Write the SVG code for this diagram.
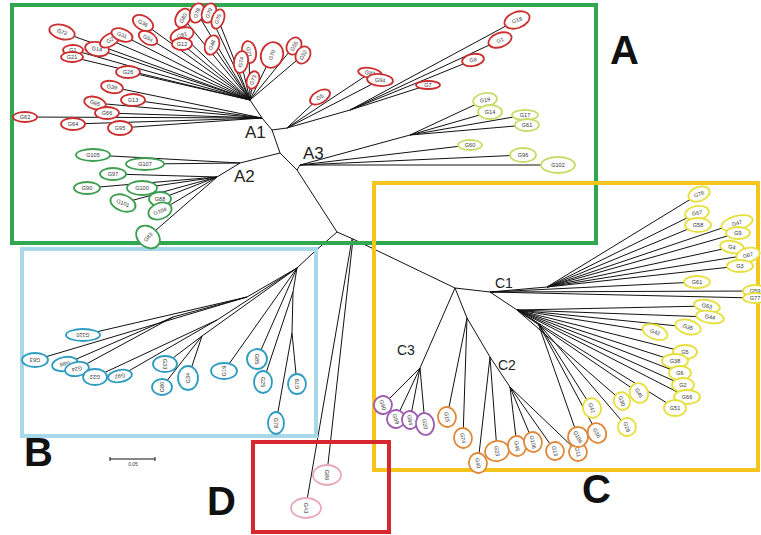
<svg xmlns="http://www.w3.org/2000/svg" width="761" height="535" viewBox="0 0 761 535">
<style>
.n ellipse{fill:#fff;stroke-width:1.8}
.n text{font-family:"Liberation Sans",Arial,sans-serif;font-size:5.5px;text-anchor:middle;fill:#333}
.r ellipse{stroke:#c9302f}
.g ellipse{stroke:#3d9e4f}
.lg ellipse{stroke:#c9dc6a}
.b ellipse{stroke:#2e9cc0}
.y ellipse{stroke:#e6df3c}
.o ellipse{stroke:#e0893a}
.p ellipse{stroke:#9d5bb0}
.k ellipse{stroke:#e7abbb}
.edges path{fill:none;stroke:#111;stroke-width:1}
.frame{fill:none;stroke-width:4}
.lbl{font-family:"Liberation Sans",Arial,sans-serif;font-size:17px;fill:#222}
.lblc{font-family:"Liberation Sans",Arial,sans-serif;font-size:14px;fill:#222}
.big{font-family:"Liberation Sans",Arial,sans-serif;font-size:40px;font-weight:bold;fill:#111}
</style>
<rect width="761" height="535" fill="#fff"/>
<g id="connectors" class="edges">
<path d="M337 232L297 170L280 153L272 130M337 232L313 253L297 268M337 232L353 239L455 288M352 239L306 506M353 239L327 473"/>
<path d="M272 130L262 118L250 100M250 100L62 32M250 100L73 50M250 100L72 57M250 100L97 49M250 100L110 40M250 100L122 35M250 100L143 23M250 100L148 38M250 100L128 72M250 100L183 18M250 100L197 13M250 100L209 13M250 100L218 19M250 100L182 35M250 100L182 44M250 100L212 45M250 100L249 52M250 100L241 62M250 100L272 55M250 100L294 46M250 100L303 55M250 100L253 80"/>
<path d="M262 118L112 87M262 118L133 100M262 118L95 103M262 118L107 113M262 118L25 117M262 118L73 124M262 118L120 128"/>
<path d="M272 130L287 128L320 97M287 128L370 73M287 128L380 80M287 128L350 110L428 85M350 110L473 60M350 110L500 40M350 110L517 20"/>
<path d="M297 170L300 165L410 135L485 100M410 135L490 112M410 135L525 115M410 135L527 125M300 165L470 145M300 165L523 155M300 165L558 165"/>
<path d="M280 153L240 163L93 155M240 163L145 164M240 163L217 177L113 174M217 177L87 188M217 177L142 188M217 177L123 203M217 177L160 199M217 177L160 211M217 177L148 237"/>
<path d="M297 268L247 297L83 335M247 297L35 360M247 297L173 317L65 364M173 317L77 369M297 268L217 320L95 377M217 320L120 376M297 268L202 336L165 364M202 336L162 387M202 336L188 378M297 268L224 371M297 268L257 359M297 268L293 292L263 382M293 292L292 333L297 384M292 333L276 423"/>
<path d="M455 288L490 292L547 287L699 194M547 287L697 213M547 287L698 225M547 287L737 223M547 287L738 233M547 287L732 247M547 287L748 255M547 287L740 266M490 292L697 282M490 292L755 291M490 292L755 298"/>
<path d="M490 292L517 310L707 306M517 310L710 317M517 310L688 327M517 310L655 332M517 310L685 352M517 310L675 361M517 310L680 373M517 310L683 385M517 310L687 397M517 310L675 408M517 310L639 393M517 310L622 401M517 310L538 323L592 408M538 323L627 427M538 323L597 433M538 323L578 437"/>
<path d="M455 288L467 318L447 417M467 318L463 438M467 318L490 357L478 463M490 357L497 451M490 357L510 387L517 446M510 387L533 442M510 387L555 451M510 387L578 452"/>
<path d="M455 288L420 368L383 405M420 368L396 419M420 368L410 420M420 368L425 424"/>
<path d="M110 459L155 459M110 457L110 461M155 457L155 461" stroke-width="0.6"/>
</g>
<rect class="frame" x="12" y="5" width="584" height="238" stroke="#2fa84f"/>
<rect class="frame" x="22" y="249" width="294" height="187" stroke="#a6d8ea"/>
<rect class="frame" x="374" y="183" width="384" height="287" stroke="#f4c51c"/>
<rect class="frame" x="253" y="442" width="136" height="90" stroke="#d7282f"/>
<g id="red">
<g id="r1" class="n r" transform="translate(62,32) rotate(15)"><ellipse rx="13" ry="7"/><text y="2">G72</text></g>
<g id="r2" class="n r" transform="translate(73,50)"><ellipse rx="10" ry="5"/><text y="2">G1</text></g>
<g id="r3" class="n r" transform="translate(72,57)"><ellipse rx="11" ry="5"/><text y="2">G21</text></g>
<g id="r4" class="n r" transform="translate(97,49) rotate(10)"><ellipse rx="12" ry="7"/><text y="2">G14</text></g>
<g id="r5" class="n r" transform="translate(110,40) rotate(-30)"><ellipse rx="11" ry="6"/><text y="2">G2</text></g>
<g id="r6" class="n r" transform="translate(122,35) rotate(20)"><ellipse rx="11" ry="6"/><text y="2">G31</text></g>
<g id="r7" class="n r" transform="translate(143,23) rotate(30)"><ellipse rx="11" ry="7"/><text y="2">G36</text></g>
<g id="r8" class="n r" transform="translate(148,38) rotate(30)"><ellipse rx="10" ry="6"/><text y="2">G54</text></g>
<g id="r9" class="n r" transform="translate(128,72)"><ellipse rx="12" ry="6"/><text y="2">G26</text></g>
<g id="r10" class="n r" transform="translate(112,87) rotate(10)"><ellipse rx="11" ry="6"/><text y="2">G39</text></g>
<g id="r11" class="n r" transform="translate(133,100)"><ellipse rx="12" ry="6"/><text y="2">G13</text></g>
<g id="r12" class="n r" transform="translate(95,103) rotate(15)"><ellipse rx="11" ry="6"/><text y="2">G65</text></g>
<g id="r13" class="n r" transform="translate(107,113)"><ellipse rx="12" ry="6"/><text y="2">G66</text></g>
<g id="r14" class="n r" transform="translate(25,117)"><ellipse rx="12" ry="5"/><text y="2">G62</text></g>
<g id="r15" class="n r" transform="translate(73,124)"><ellipse rx="12" ry="6"/><text y="2">G64</text></g>
<g id="r16" class="n r" transform="translate(120,128)"><ellipse rx="12" ry="7"/><text y="2">G95</text></g>
<g id="r17" class="n r" transform="translate(183,18) rotate(-60)"><ellipse rx="10" ry="7"/><text y="2">G80</text></g>
<g id="r18" class="n r" transform="translate(197,13) rotate(-70)"><ellipse rx="10" ry="7"/><text y="2">G78</text></g>
<g id="r19" class="n r" transform="translate(209,13) rotate(-70)"><ellipse rx="10" ry="7"/><text y="2">G79</text></g>
<g id="r20" class="n r" transform="translate(218,19) rotate(-70)"><ellipse rx="10" ry="6"/><text y="2">G75</text></g>
<g id="r21" class="n r" transform="translate(182,35) rotate(-20)"><ellipse rx="12" ry="7"/><text y="2">G81</text></g>
<g id="r22" class="n r" transform="translate(182,44)"><ellipse rx="10" ry="6"/><text y="2">G12</text></g>
<g id="r23" class="n r" transform="translate(212,45) rotate(-70)"><ellipse rx="10" ry="7"/><text y="2">G48</text></g>
<g id="r24" class="n r" transform="translate(249,52) rotate(80)"><ellipse rx="11" ry="7"/><text y="2">G71</text></g>
<g id="r25" class="n r" transform="translate(241,62) rotate(-80)"><ellipse rx="11" ry="7"/><text y="2">G74</text></g>
<g id="r26" class="n r" transform="translate(272,55) rotate(-70)"><ellipse rx="13" ry="11"/><text y="2">G70</text></g>
<g id="r27" class="n r" transform="translate(294,46) rotate(-60)"><ellipse rx="9" ry="7"/><text y="2">G55</text></g>
<g id="r28" class="n r" transform="translate(303,55) rotate(-60)"><ellipse rx="9" ry="7"/><text y="2">G52</text></g>
<g id="r29" class="n r" transform="translate(253,80) rotate(-70)"><ellipse rx="9" ry="6"/><text y="2">G73</text></g>
<g id="r30" class="n r" transform="translate(370,73) rotate(10)"><ellipse rx="12" ry="5"/><text y="2">G82</text></g>
<g id="r31" class="n r" transform="translate(380,80) rotate(5)"><ellipse rx="13" ry="6"/><text y="2">G94</text></g>
<g id="r32" class="n r" transform="translate(320,97) rotate(-30)"><ellipse rx="11" ry="6"/><text y="2">G5</text></g>
<g id="r33" class="n r" transform="translate(428,85)"><ellipse rx="12" ry="4"/><text y="2">G7</text></g>
<g id="r34" class="n r" transform="translate(473,60) rotate(-10)"><ellipse rx="11" ry="6"/><text y="2">G8</text></g>
<g id="r35" class="n r" transform="translate(500,40) rotate(-20)"><ellipse rx="12" ry="7"/><text y="2">G1</text></g>
<g id="r36" class="n r" transform="translate(517,20) rotate(-20)"><ellipse rx="13" ry="8"/><text y="2">G18</text></g>
</g>
<g id="a3nodes">
<g id="l1" class="n lg" transform="translate(485,100) rotate(-10)"><ellipse rx="12" ry="7"/><text y="2">G19</text></g>
<g id="l2" class="n lg" transform="translate(490,112)"><ellipse rx="12" ry="7"/><text y="2">G14</text></g>
<g id="l3" class="n lg" transform="translate(525,115)"><ellipse rx="13" ry="5"/><text y="2">G17</text></g>
<g id="l4" class="n lg" transform="translate(527,125)"><ellipse rx="12" ry="6"/><text y="2">G61</text></g>
<g id="l5" class="n lg" transform="translate(470,145)"><ellipse rx="12" ry="5"/><text y="2">G60</text></g>
<g id="l6" class="n lg" transform="translate(523,155)"><ellipse rx="13" ry="7"/><text y="2">G96</text></g>
<g id="l7" class="n lg" transform="translate(558,165)"><ellipse rx="17" ry="8"/><text y="2">G102</text></g>
</g>
<g id="a2nodes">
<g id="g1" class="n g" transform="translate(93,155)"><ellipse rx="17" ry="6"/><text y="2">G105</text></g>
<g id="g2" class="n g" transform="translate(145,164)"><ellipse rx="19" ry="6"/><text y="2">G107</text></g>
<g id="g3" class="n g" transform="translate(113,174)"><ellipse rx="13" ry="6"/><text y="2">G97</text></g>
<g id="g4" class="n g" transform="translate(87,188)"><ellipse rx="13" ry="6"/><text y="2">G90</text></g>
<g id="g5" class="n g" transform="translate(142,188)"><ellipse rx="15" ry="7"/><text y="2">G100</text></g>
<g id="g6" class="n g" transform="translate(123,203) rotate(20)"><ellipse rx="13" ry="8"/><text y="2">G101</text></g>
<g id="g7" class="n g" transform="translate(160,199)"><ellipse rx="11" ry="7"/><text y="2">G88</text></g>
<g id="g8" class="n g" transform="translate(160,211) rotate(-20)"><ellipse rx="12" ry="8"/><text y="2">G104</text></g>
<g id="g9" class="n g" transform="translate(148,237) rotate(-50)"><ellipse rx="10" ry="13"/><text y="2">G83</text></g>
</g>
<g id="bnodes">
<g id="b1" class="n b" transform="translate(83,335) rotate(180)"><ellipse rx="17" ry="6"/><text y="2">G110</text></g>
<g id="b2" class="n b" transform="translate(35,360) rotate(180)"><ellipse rx="13" ry="7"/><text y="2">G63</text></g>
<g id="b3" class="n b" transform="translate(65,364) rotate(170)"><ellipse rx="13" ry="7"/><text y="2">G86</text></g>
<g id="b4" class="n b" transform="translate(77,369) rotate(170)"><ellipse rx="12" ry="7"/><text y="2">G24</text></g>
<g id="b5" class="n b" transform="translate(95,377) rotate(180)"><ellipse rx="12" ry="8"/><text y="2">G22</text></g>
<g id="b6" class="n b" transform="translate(120,376) rotate(170)"><ellipse rx="12" ry="6"/><text y="2">G92</text></g>
<g id="b7" class="n b" transform="translate(165,364) rotate(90)"><ellipse rx="8" ry="12"/><text y="2">G33</text></g>
<g id="b8" class="n b" transform="translate(162,387) rotate(-90)"><ellipse rx="8" ry="10"/><text y="2">G80</text></g>
<g id="b9" class="n b" transform="translate(188,378) rotate(-90)"><ellipse rx="12" ry="10"/><text y="2">G34</text></g>
<g id="b10" class="n b" transform="translate(224,371) rotate(-90)"><ellipse rx="8" ry="13"/><text y="2">G19</text></g>
<g id="b11" class="n b" transform="translate(257,359) rotate(90)"><ellipse rx="10" ry="10"/><text y="2">G85</text></g>
<g id="b12" class="n b" transform="translate(263,382) rotate(90)"><ellipse rx="11" ry="9"/><text y="2">G25</text></g>
<g id="b13" class="n b" transform="translate(297,384) rotate(-90)"><ellipse rx="10" ry="9"/><text y="2">G79</text></g>
<g id="b14" class="n b" transform="translate(276,423) rotate(90)"><ellipse rx="11" ry="8"/><text y="2">G78</text></g>
</g>
<g id="dnodes">
<g id="d1" class="n k" transform="translate(327,475) rotate(90)"><ellipse rx="10" ry="14"/><text y="2">G86</text></g>
<g id="d2" class="n k" transform="translate(306,508) rotate(90)"><ellipse rx="10" ry="15"/><text y="2">G43</text></g>
</g>
<g id="cnodes">
<g id="y1" class="n y" transform="translate(699,194) rotate(-20)"><ellipse rx="11" ry="7"/><text y="2">G76</text></g>
<g id="y2" class="n y" transform="translate(697,213) rotate(-10)"><ellipse rx="12" ry="7"/><text y="2">G57</text></g>
<g id="y3" class="n y" transform="translate(698,225)"><ellipse rx="13" ry="7"/><text y="2">G58</text></g>
<g id="y4" class="n y" transform="translate(737,223) rotate(-15)"><ellipse rx="16" ry="7"/><text y="2">G47</text></g>
<g id="y5" class="n y" transform="translate(738,233)"><ellipse rx="12" ry="6"/><text y="2">G9</text></g>
<g id="y6" class="n y" transform="translate(732,247) rotate(10)"><ellipse rx="12" ry="6"/><text y="2">G4</text></g>
<g id="y7" class="n y" transform="translate(748,255) rotate(-15)"><ellipse rx="12" ry="7"/><text y="2">G67</text></g>
<g id="y8" class="n y" transform="translate(740,266)"><ellipse rx="13" ry="6"/><text y="2">G3</text></g>
<g id="y9" class="n y" transform="translate(697,282)"><ellipse rx="13" ry="6"/><text y="2">G61</text></g>
<g id="y10" class="n y" transform="translate(755,291)"><ellipse rx="12" ry="6"/><text y="2">G59</text></g>
<g id="y11" class="n y" transform="translate(755,298)"><ellipse rx="12" ry="5"/><text y="2">G77</text></g>
<g id="y12" class="n y" transform="translate(707,306) rotate(10)"><ellipse rx="13" ry="6"/><text y="2">G63</text></g>
<g id="y13" class="n y" transform="translate(710,317) rotate(10)"><ellipse rx="14" ry="6"/><text y="2">G44</text></g>
<g id="y14" class="n y" transform="translate(688,327) rotate(15)"><ellipse rx="13" ry="7"/><text y="2">G35</text></g>
<g id="y15" class="n y" transform="translate(655,332) rotate(20)"><ellipse rx="13" ry="7"/><text y="2">G42</text></g>
<g id="y16" class="n y" transform="translate(685,352)"><ellipse rx="12" ry="7"/><text y="2">G5</text></g>
<g id="y17" class="n y" transform="translate(675,361)"><ellipse rx="13" ry="7"/><text y="2">G38</text></g>
<g id="y18" class="n y" transform="translate(680,373)"><ellipse rx="11" ry="7"/><text y="2">G6</text></g>
<g id="y19" class="n y" transform="translate(683,385)"><ellipse rx="11" ry="7"/><text y="2">G2</text></g>
<g id="y20" class="n y" transform="translate(687,397)"><ellipse rx="13" ry="7"/><text y="2">G66</text></g>
<g id="y21" class="n y" transform="translate(675,408)"><ellipse rx="11" ry="8"/><text y="2">G51</text></g>
<g id="y22" class="n y" transform="translate(639,393) rotate(60)"><ellipse rx="10" ry="9"/><text y="2">G45</text></g>
<g id="y23" class="n y" transform="translate(622,401) rotate(70)"><ellipse rx="9" ry="8"/><text y="2">G30</text></g>
<g id="y24" class="n y" transform="translate(592,408) rotate(70)"><ellipse rx="10" ry="9"/><text y="2">G41</text></g>
<g id="y25" class="n y" transform="translate(627,427) rotate(70)"><ellipse rx="9" ry="9"/><text y="2">G28</text></g>
<g id="o1" class="n o" transform="translate(447,417) rotate(80)"><ellipse rx="10" ry="9"/><text y="2">G15</text></g>
<g id="o2" class="n o" transform="translate(463,438) rotate(80)"><ellipse rx="10" ry="9"/><text y="2">G74</text></g>
<g id="o3" class="n o" transform="translate(478,463) rotate(80)"><ellipse rx="10" ry="9"/><text y="2">G40</text></g>
<g id="o4" class="n o" transform="translate(497,451) rotate(80)"><ellipse rx="10" ry="12"/><text y="2">G23</text></g>
<g id="o5" class="n o" transform="translate(517,446) rotate(80)"><ellipse rx="10" ry="9"/><text y="2">G46</text></g>
<g id="o6" class="n o" transform="translate(533,442) rotate(80)"><ellipse rx="10" ry="9"/><text y="2">G106</text></g>
<g id="o7" class="n o" transform="translate(555,451) rotate(75)"><ellipse rx="9" ry="9"/><text y="2">G13</text></g>
<g id="o8" class="n o" transform="translate(578,452) rotate(75)"><ellipse rx="9" ry="9"/><text y="2">G11</text></g>
<g id="o9" class="n o" transform="translate(578,437) rotate(60)"><ellipse rx="10" ry="10"/><text y="2">G106</text></g>
<g id="o10" class="n o" transform="translate(597,433) rotate(60)"><ellipse rx="10" ry="9"/><text y="2">G16</text></g>
<g id="p1" class="n p" transform="translate(383,405) rotate(70)"><ellipse rx="9" ry="9"/><text y="2">G60</text></g>
<g id="p2" class="n p" transform="translate(396,419) rotate(70)"><ellipse rx="9" ry="9"/><text y="2">G69</text></g>
<g id="p3" class="n p" transform="translate(410,420) rotate(80)"><ellipse rx="9" ry="8"/><text y="2">G84</text></g>
<g id="p4" class="n p" transform="translate(425,424) rotate(80)"><ellipse rx="11" ry="9"/><text y="2">G20</text></g>
</g>
<g id="labels">
<text class="lbl" x="245" y="138">A1</text>
<text class="lbl" x="303" y="159">A3</text>
<text class="lbl" x="234" y="182">A2</text>
<text class="lblc" x="495" y="288">C1</text>
<text class="lblc" x="498" y="370">C2</text>
<text class="lblc" x="397" y="355">C3</text>
<text class="big" x="610" y="64">A</text>
<text class="big" x="24" y="466">B</text>
<text class="big" x="582" y="503">C</text>
<text class="big" x="207" y="515">D</text>
<text x="133" y="466" font-family="Liberation Sans, Arial, sans-serif" font-size="5" text-anchor="middle" fill="#333">0.05</text>
</g>
</svg>
